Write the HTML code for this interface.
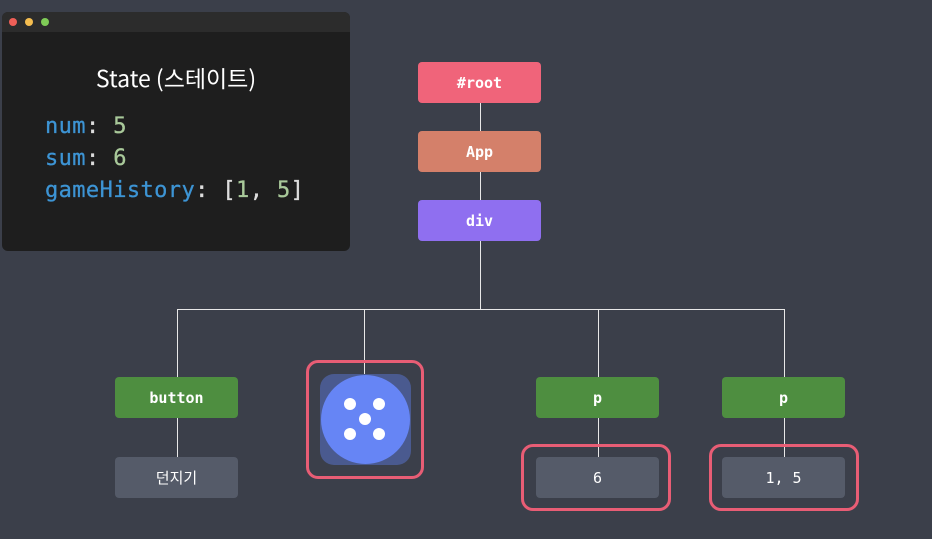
<!DOCTYPE html><html><head><style>
body{margin:0;width:932px;height:539px;background:#3b3f4a;position:relative;overflow:hidden;font-family:"Liberation Mono",monospace}
.a{position:absolute;box-sizing:border-box}
.n{position:absolute;width:123px;height:41px;border-radius:4px;color:#fff;font-size:15px;font-weight:bold;display:flex;align-items:center;justify-content:center;font-family:"DejaVu Sans Mono",monospace}
.l{position:absolute;background:#e8e8e8}
.r{position:absolute;border:3px solid #e85d75;border-radius:12px;box-sizing:border-box}
.d{position:absolute;width:12px;height:12px;border-radius:50%;background:#fff}
</style></head><body>
<div class="a" style="left:2px;top:12px;width:348px;height:239px;background:#1e1e1e;border-radius:6px;overflow:hidden">
<div style="height:20px;background:#2c2c2c"></div>
</div>
<div class="a" style="left:9px;top:18px;width:8px;height:8px;border-radius:50%;background:#ee5f57"></div>
<div class="a" style="left:25px;top:18px;width:8px;height:8px;border-radius:50%;background:#f5bd4f"></div>
<div class="a" style="left:41px;top:18px;width:8px;height:8px;border-radius:50%;background:#7fcb57"></div>
<div class="a" style="left:2px;top:61px;width:348px;text-align:center;color:#fff;font-size:23px;font-family:'Noto Sans CJK KR',sans-serif;line-height:32px">State (스테이트)</div>
<div class="a" style="left:45px;top:111px;font-size:22px;letter-spacing:0.4px;line-height:32px;font-family:'DejaVu Sans Mono',monospace;color:#ddd;white-space:pre;-webkit-text-stroke:0.3px"><span style="color:#3d94d4">num</span>: <span style="color:#a9c99a">5</span>
<span style="color:#3d94d4">sum</span>: <span style="color:#a9c99a">6</span>
<span style="color:#3d94d4">gameHistory</span>: [<span style="color:#a9c99a">1</span>, <span style="color:#a9c99a">5</span>]</div>

<div class="l" style="left:480px;top:103px;width:1px;height:206px"></div>
<div class="l" style="left:177px;top:309px;width:608px;height:1px"></div>
<div class="l" style="left:177px;top:309px;width:1px;height:148px"></div>
<div class="l" style="left:364px;top:309px;width:1px;height:65px"></div>
<div class="l" style="left:598px;top:309px;width:1px;height:148px"></div>
<div class="l" style="left:784px;top:309px;width:1px;height:148px"></div>

<div class="n" style="left:418px;top:62px;background:#f0647a">#root</div>
<div class="n" style="left:418px;top:131px;background:#d4806a">App</div>
<div class="n" style="left:418px;top:200px;background:#8f6ff0">div</div>
<div class="n" style="left:115px;top:377px;background:#4e8e40">button</div>
<div class="n" style="left:115px;top:457px;background:#555b69;font-weight:normal;font-family:'Noto Sans CJK KR',sans-serif">던지기</div>
<div class="n" style="left:536px;top:377px;background:#4e8e40">p</div>
<div class="n" style="left:536px;top:457px;background:#555b69;font-weight:normal">6</div>
<div class="n" style="left:722px;top:377px;background:#4e8e40">p</div>
<div class="n" style="left:722px;top:457px;background:#555b69;font-weight:normal">1, 5</div>

<div class="r" style="left:306px;top:360px;width:118px;height:119px"></div>
<div class="r" style="left:521px;top:444px;width:150px;height:67px"></div>
<div class="r" style="left:709px;top:444px;width:150px;height:67px"></div>

<div class="a" style="left:320px;top:374px;width:91px;height:91px;border-radius:14px;background:#4a5a8f"></div>
<div class="a" style="left:321px;top:375px;width:89px;height:89px;border-radius:50%;background:#6685f5"></div>
<div class="d" style="left:344px;top:398px"></div>
<div class="d" style="left:373px;top:398px"></div>
<div class="d" style="left:359px;top:413px"></div>
<div class="d" style="left:344px;top:428px"></div>
<div class="d" style="left:373px;top:428px"></div>
</body></html>
